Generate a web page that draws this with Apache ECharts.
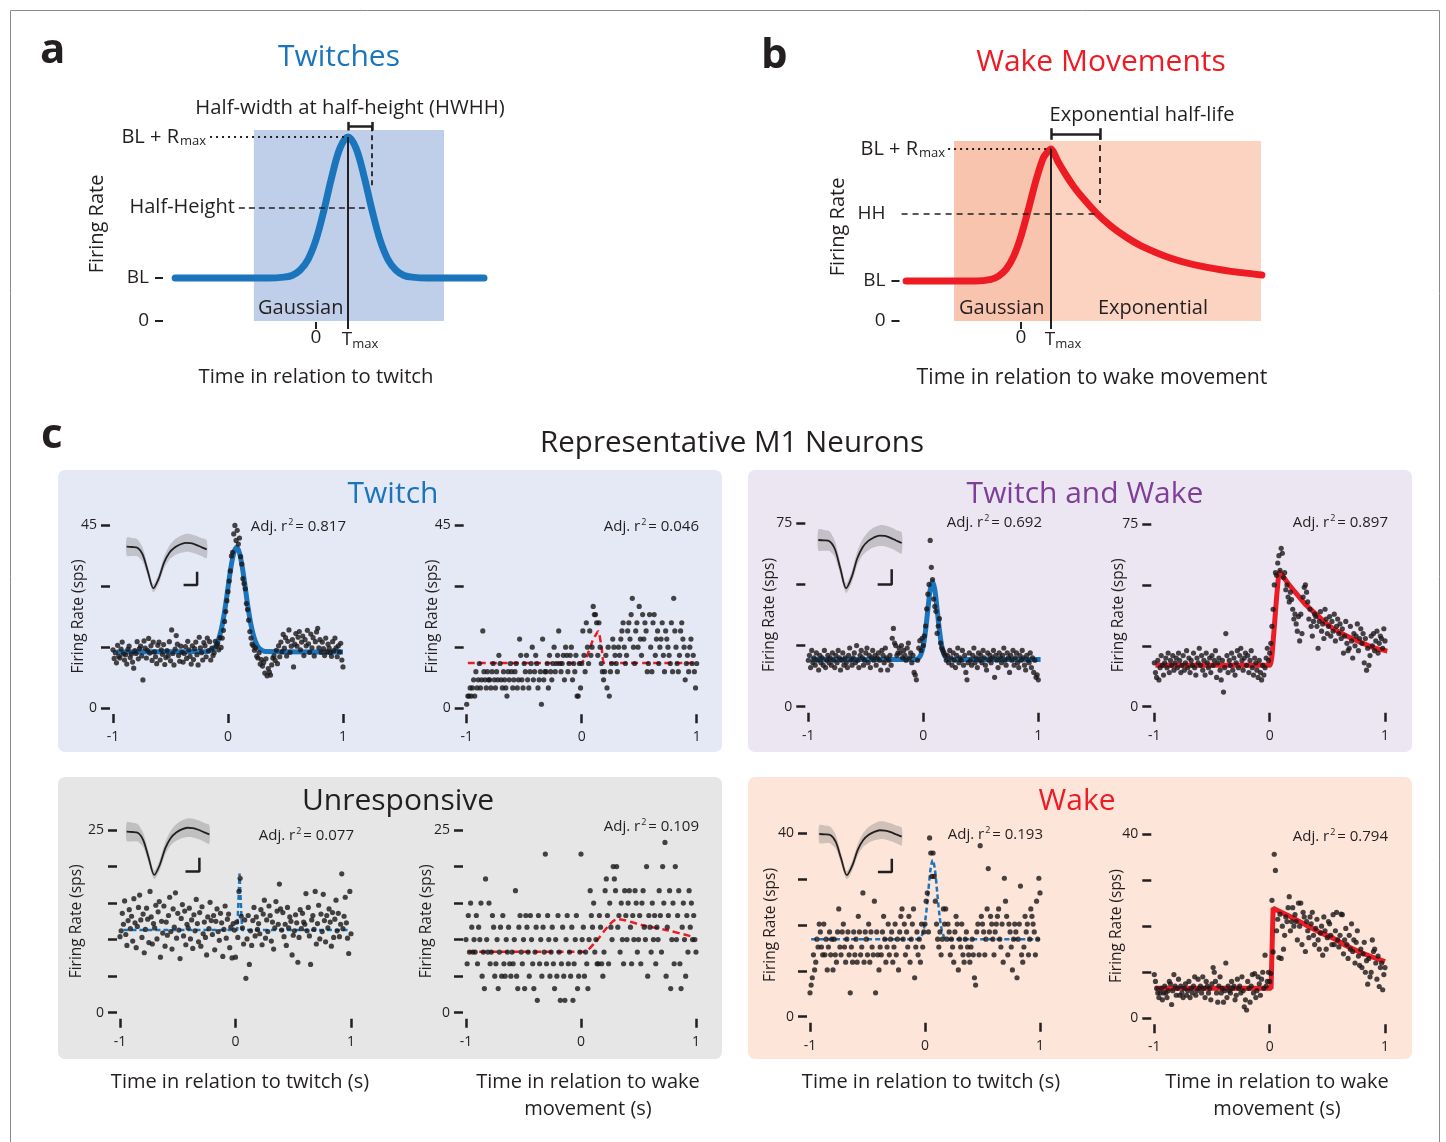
<!DOCTYPE html>
<html><head><meta charset="utf-8">
<script src="https://cdn.jsdelivr.net/npm/echarts@6/dist/echarts.min.js"></script>
<style>html,body{margin:0;padding:0;background:#fff}#c{width:1446px;height:1142px}</style>
</head><body><div id="c"></div><script>
const FONT = "'Open Sans', 'Noto Sans', sans-serif";
const DARK = '#231f20', BLUE = '#1b75bc', RED = '#ed1c24', PURPLE = '#7f3f98';

// ---------- DATA ----------
// Schematic curves (x unit = Tmax, y unit = BL)
const schemaTwitchCurve = [[-4.4,1],[-1.5,1],[-1,1.02],[-0.75,1.06],[-0.5,1.18],[-0.25,1.43],[0,1.89],[0.25,2.58],[0.5,3.37],[0.75,4.02],[1,4.28],[1.25,4.02],[1.5,3.37],[1.75,2.58],[2,1.89],[2.25,1.43],[2.5,1.18],[2.75,1.06],[3,1.02],[3.5,1],[5.25,1]];
const schemaWakeCurve = [[-3.83,1],[-1.5,1],[-1,1.04],[-0.75,1.12],[-0.5,1.29],[-0.25,1.61],[0,2.12],[0.25,2.8],[0.5,3.52],[0.75,4.09],[1,4.3],[1.25,3.96],[1.5,3.65],[1.75,3.37],[2,3.13],[2.5,2.71],[3,2.37],[3.5,2.1],[4,1.88],[5,1.57],[6,1.37],[7,1.24],[8.03,1.15]];

// Panel c: firing rate per time bin, from -1 s to 1 s
const twitchCellTwitchRates = [
14.3,12.2,13.6,11.1,15.4,12.7,12.3,14.5,16.2,13.3,11.8,13.1,10.8,14.4,15.2,12.4,13.3,11.3,9.8,14.1,
13.4,16.3,12.1,14.6,15.2,12.8,6.9,16.5,14.7,12.3,14.2,17.1,13.5,15.3,11.7,16.2,13.8,12.6,10.9,15.4,
16.2,11.8,14.3,13.2,15.6,10.7,12.4,14.1,12.8,16.3,11.6,19.2,13.4,10.6,14.5,17.8,15.7,12.9,11.5,15.2,
13.7,11.3,13.4,15.1,12.2,16.4,14.3,12.7,10.8,15.3,11.9,14.6,16.2,13.1,10.6,17.4,14.8,13.6,11.8,16.1,
15.3,12.6,17.2,14.1,16.3,11.8,14.7,12.9,13.6,16.4,15.2,15.8,14.3,17.3,14.9,17.2,19.1,21.3,23.7,26.4,
28.6,31.2,33.7,37.4,38.3,42.8,44.9,41.2,43.7,40.3,41.8,37.2,35.4,31.8,30.6,29.3,25.7,24.2,21.6,18.8,
17.2,15.7,15.3,14.2,14.8,12.7,12.3,13.6,10.8,11.9,10.3,11.2,8.6,12.1,7.9,9.7,8.8,8.1,10.6,12.3,
12.8,11.7,14.2,10.9,15.3,12.6,16.2,13.8,18.1,14.7,17.3,12.8,16.4,19.2,13.7,15.2,16.8,10.1,15.7,18.3,
15.2,17.4,18.8,14.3,16.2,17.7,12.9,16.8,15.3,19.1,15.8,13.7,18.2,14.8,17.3,12.8,16.3,18.7,19.6,14.8,
16.8,13.7,16.2,14.6,12.9,17.2,13.8,15.7,14.7,13.6,12.7,16.3,14.1,17.2,14.8,12.6,15.3,13.8,15.9,11.8,10.1];
const twitchCellWakeRates = [
1,3,3,5,3,5,7,3,9,5,7,11,5,7,19,9,7,5,9,7,
7,5,9,11,7,5,9,7,13,11,7,5,9,7,5,3,9,7,11,9,
5,7,9,11,5,7,17,13,7,5,11,9,13,7,5,9,11,15,7,9,
13,11,5,7,9,1,17,7,9,9,11,5,13,9,7,11,15,9,11,13,
19,11,9,11,13,7,15,13,9,11,13,15,7,11,9,13,3,3,11,5,
11,19,13,9,21,15,11,19,13,15,25,23,23,21,13,21,15,11,9,7,
9,13,5,15,3,9,11,17,15,13,11,9,15,13,17,19,21,15,11,13,
19,21,17,23,27,15,11,19,21,15,25,17,13,23,17,21,19,9,11,23,
15,9,21,23,13,17,19,11,15,17,21,13,9,19,17,15,13,11,21,9,
27,19,15,11,9,13,19,21,17,15,7,11,13,9,15,17,11,13,9,5,11];
const bothCellTwitchRates = [
19,21,16,23,18,20,17,22,19,15,21,18,20,17,23,16,19,21,18,20,
17,22,19,16,21,18,23,20,15,19,22,17,20,18,16,21,24,19,17,20,
22,18,25,19,16,21,23,20,17,19,22,24,18,21,16,20,23,19,21,17,
20,22,19,15,23,21,18,24,20,15,19,21,17,28,32,26,25,21,22,24,
22,25,20,23,21,19,24,26,20,22,18,21,14,13,11,19,24,27,23,28,
25,29,33,40,46,50,68,57,52,44,41,39,30,33,36,26,24,23,22,21,
19,21,18,23,20,17,22,19,16,21,24,18,20,19,23,17,21,14,11,18,
22,19,17,21,24,18,20,16,22,19,21,18,23,20,17,15,22,19,21,18,
20,23,12,21,19,16,22,20,18,21,24,19,17,22,20,14,21,19,23,17,
20,22,18,16,21,19,23,20,17,15,21,19,18,22,16,20,14,19,12,13,11];
const bothCellWakeRates = [
18,14,12,19,11,16,21,17,13,18,20,16,22,14,19,17,21,15,18,20,
16,22,19,14,17,21,15,18,23,16,20,14,19,17,22,16,13,20,18,24,
17,21,15,19,13,22,18,16,20,14,21,17,19,23,12,18,20,15,11,19,
6,16,30,21,14,19,17,22,15,20,13,18,23,16,21,24,19,15,20,22,
17,21,14,19,23,16,13,20,18,15,12,19,14,11,17,13,16,20,24,19,
22,26,33,40,50,55,54,59,62,56,65,63,53,55,48,50,45,43,47,44,
40,36,38,34,31,37,27,38,30,45,49,50,47,43,36,40,33,29,35,38,
37,33,24,35,39,31,34,28,40,36,30,33,37,29,35,31,38,27,33,36,
30,34,28,32,22,29,35,26,23,24,33,27,20,30,25,29,34,23,28,32,
26,30,18,28,15,24,17,21,29,25,30,23,27,31,22,26,29,28,24,32,27];
const unrespCellTwitchRates = [
10.4,11.2,13.6,12.1,15.3,10.7,9.2,12.6,14.1,11.5,13.2,9.8,15.6,12.3,8.9,11.8,14.4,16.1,12.7,10.3,
13.5,8.2,11.4,14.3,12.8,9.6,16.6,13.1,9.4,12.2,11.6,14.7,10.1,13.8,15.2,7.6,12.5,10.9,14.6,9.1,
12.4,10.6,13.3,15.8,11.1,8.7,14.2,11.7,16.4,10.2,13.6,11.3,7.4,12.9,14.8,10.5,13.9,9.3,12.1,11.6,
14.3,10.1,12.7,8.8,13.4,11.2,15.5,12.2,9.7,13.7,9.1,14.5,10.8,12.4,10.3,7.9,13.1,11.5,15.1,12.6,
10.7,13.3,8.6,12.5,14.2,11.1,9.9,13.6,12.3,7.7,11.4,14.6,10.2,12.8,13.5,8.9,11.7,7.5,12.2,11.3,
7.6,12.4,10.3,16.6,18.4,13.2,11.6,9.4,12.7,4.7,10.1,13.3,6.6,11.2,9.2,12.6,14.4,10.5,13.1,11.4,
12.2,10.8,14.1,9.3,13.5,15.4,10.2,12.7,11.1,14.6,13.3,9.8,12.4,8.7,11.6,15.2,13.9,12.1,17.6,14.2,
11.3,13.7,10.4,12.1,9.2,14.4,11.6,13.1,12.5,7.9,10.6,11.2,13.4,12.3,6.9,10.3,14.1,11.5,13.6,12.4,
12.1,16.3,11.2,14.4,10.5,6.6,12.7,13.3,11.4,16.6,9.4,12.2,14.7,10.1,13.5,11.1,16.2,12.6,9.7,13.3,
11.6,14.2,12.4,9.1,13.7,10.3,12.8,15.4,11.2,13.6,10.4,12.1,19.0,11.5,13.2,15.8,12.3,10.2,8.1,16.6,10.8];
const unrespCellWakeRates = [
10,6.7,13.3,8.3,15,11.7,8.3,10,8.3,13.3,6.7,11.7,10,15,5,8.3,3.3,18.3,10,8.3,
15,6.7,8.3,13.3,11.7,5,6.7,10,3.3,8.3,11.7,5,13.3,6.7,5,10,8.3,11.7,6.7,5,
8.3,6.7,10,16.7,5,3.3,11.7,13.3,8.3,6.7,10,3.3,13.3,11.7,8.3,5,13.3,10,6.7,3.3,
8.3,11.7,1.7,13.3,6.7,10,5,11.7,8.3,21.7,6.7,13.3,10,5,8.3,11.7,6.7,3.3,10,5,
13.3,8.3,1.7,6.7,11.7,5,1.7,10,13.3,6.7,8.3,5,11.7,1.7,6.7,10,13.3,3.3,5,8.3,
21.7,10,11.7,5,8.3,6.7,3.3,10,16.7,13.3,11.7,15,8.3,10,6.7,6.7,13.3,11.7,6.7,5,
8.3,16.7,18.3,13.3,6.7,15,11.7,10,20,18.3,16.7,20,11.7,13.3,8.3,15,10,6.7,16.7,13.3,
10,15,16.7,11.7,6.7,13.3,10,16.7,15,8.3,10,13.3,6.7,15,16.7,11.7,10,20,5,13.3,
11.7,8.3,15,10,13.3,6.7,11.7,10,16.7,13.3,8.3,20,15,23.3,5,11.7,13.3,16.7,3.3,10,
15,6.7,20,10,13.3,16.7,6.7,3.3,11.7,15,10,5,13.3,8.3,16.7,11.7,15,10,13.3,10,8.3];
const wakeCellTwitchRates = [
5.2,6.9,8.5,13.5,10.2,11.9,16.9,15.2,20.2,18.5,15.2,13.5,20.2,13.5,16.9,10.2,15.2,18.5,13.5,16.9,
10.2,16.9,13.5,11.9,18.5,23.5,15.2,13.5,18.5,20.2,15.2,11.9,16.9,18.5,13.5,5.2,15.2,11.9,18.5,13.5,
16.9,11.9,21.9,18.5,13.5,15.2,27.0,11.9,18.5,16.9,13.5,20.2,11.9,18.5,15.2,13.5,25.2,5.2,18.5,13.5,
10.2,15.2,13.5,18.5,21.9,16.9,11.9,15.2,20.2,13.5,16.9,18.5,11.9,15.2,20.2,13.5,16.9,10.2,18.5,21.9,
23.5,16.9,20.2,13.5,18.5,15.2,21.9,11.9,16.9,20.2,23.5,8.5,15.2,18.5,13.5,16.9,11.9,20.2,15.2,18.5,
20.2,25.2,27.0,18.5,39.0,35.7,30.6,35.7,30.6,25.2,20.2,16.9,15.2,18.5,13.5,16.9,23.5,20.2,23.5,16.9,
20.2,18.5,13.5,16.9,15.2,11.9,18.5,21.9,20.2,10.2,16.9,15.2,20.2,13.5,11.9,16.9,18.5,15.2,13.5,11.9,
15.2,16.9,13.5,8.5,6.9,18.5,20.2,13.5,37.3,21.9,20.2,18.5,13.5,16.9,23.5,32.3,18.5,21.9,20.2,16.9,
13.5,18.5,20.2,21.9,23.5,16.9,15.2,20.2,11.9,30.2,25.2,21.9,13.5,20.2,18.5,15.2,10.2,16.9,20.2,18.5,
8.5,16.9,20.2,28.5,13.5,11.9,15.2,21.9,18.5,20.2,13.5,16.9,23.5,21.9,20.2,18.5,13.5,25.2,16.9,30.2,27.0];
const wakeCellWakeRates = [
9.5,8,6.5,5.5,4.5,5.5,6.5,4,5.5,7,5.5,4.5,6,8,7.5,3,6,9.5,7,5,
6.5,8.5,5,7,5.5,4.5,6.5,7.5,5,6,8,4.5,6.5,5.5,7,9,5,6,8.5,6.5,
7,5.5,9,6.5,4.5,8,7,5.5,6.5,4,7.5,11,10,8,5.5,3.5,7,9,5.5,6.5,
3.5,6,12,4.5,7,6,5.5,8,6.5,7,4,5,8.5,6.5,7,5.5,9,6,2.5,4,
1.8,8,6.5,3.5,7,9.5,5.5,9.7,4.5,6,9,7.5,5,8.5,10,6.5,13.7,7,8,10,
8,9.7,25.6,14.4,35.6,32.1,19,21.5,13.2,22.6,13,20,15,18,22,21,24,26.4,19,21,
24,20,22.5,21,17,25,20,25,16,23,22,14.5,21,19,17.5,22,20.5,23,18,16,
19.5,21.5,17,15,18.5,20,13.7,22,19,15,17.5,21,20.5,18,16,22.5,16,19,23,17,
15.5,18,22.6,22.5,14,17,19.5,16,13,18,15,20.5,14.5,17,12,16.5,19,13.5,11.5,15,
11,14,16.5,10,12.5,7.4,13,9,10,17,14.5,15,12,8.5,13.5,6.9,11,12,6.2,9.5,11];

// Fitted curves [time (s), rate (sps)]
const twitchCellTwitchFit = [[-0.97,13.8],[-0.175,13.9],[-0.125,14.6],[-0.1,15.6],[-0.075,17.5],[-0.05,20.4],[-0.025,24.6],[0,29.6],[0.025,34.5],[0.05,38.1],[0.075,39.5],[0.1,38.1],[0.125,34.5],[0.15,29.6],[0.175,24.6],[0.2,20.4],[0.225,17.5],[0.25,15.6],[0.275,14.6],[0.325,13.9],[1.0,13.8]];
const twitchCellWakeFit = [[-0.99,11.1],[-0.015,11.1],[0.04,12.5],[0.095,16.6],[0.144,18.9],[0.175,14.5],[0.2,11.1],[1.0,11.1]];
const bothCellTwitchFit = [[-0.98,19.3],[-0.07,19.35],[-0.04,19.9],[-0.02,21.4],[0,24.9],[0.02,31.3],[0.04,39.9],[0.06,47.9],[0.08,51.1],[0.1,47.9],[0.12,39.9],[0.14,31.3],[0.16,24.9],[0.18,21.4],[0.2,19.9],[0.23,19.35],[1.02,19.3]];
const bothCellWakeFit = [[-0.99,17.05],[0,17.05],[0.01,18],[0.02,21],[0.034,29],[0.05,38.7],[0.066,48],[0.087,55.2],[0.15,51.2],[0.2,48.2],[0.25,45.4],[0.318,41.6],[0.4,38.1],[0.47,35],[0.55,32.1],[0.63,30],[0.7,28.3],[0.78,26.6],[0.86,25],[0.93,23.8],[1.02,22.8]];
const unrespCellTwitchFit = [[-0.97,11.3],[0.015,11.3],[0.035,19.05],[0.057,11.3],[0.97,11.3]];
const unrespCellWakeFit = [[-0.98,8.33],[0.02,8.33],[0.127,9.7],[0.245,12],[0.315,12.8],[0.53,12],[0.76,11.25],[0.97,10.4]];
const wakeCellTwitchFit = [[-0.99,16.9],[-0.06,16.9],[-0.033,17.4],[-0.013,18.8],[0.007,21.9],[0.027,26.85],[0.047,31.95],[0.067,34.2],[0.087,31.95],[0.107,26.85],[0.127,21.9],[0.147,18.8],[0.167,17.4],[0.2,16.9],[1.0,16.9]];
const wakeCellWakeFit = [[-0.99,6.5],[0.012,6.5],[0.03,23.9],[0.1,23],[0.2,21.8],[0.32,20.2],[0.43,18.7],[0.55,17.4],[0.66,15.8],[0.78,14.4],[0.89,13.3],[1.0,12.3]];

const yMaxima = [45,45,75,75,25,25,40,40];
const yIntervals = [15,15,25,25,5,5,10,10];
const adjR2 = ['0.817','0.046','0.692','0.897','0.077','0.109','0.193','0.794'];

// Spike waveform inset (sample index, arbitrary amplitude)
const waveMean = [0,-0.3,-1,-8,-25.3,-41.6,-32,-16,-6,-0.8,2.2,3.8,3.5,1.9,-0.4,-2.6];
const waveLow  = [-9,-9.3,-9.5,-15,-30.3,-45.6,-37,-22,-13,-8.8,-6.3,-5.2,-5.5,-7.1,-9.4,-11.6];
const waveHigh = [9,8.7,7.5,-1,-20.3,-37.6,-27,-10,1,7.2,10.7,12.8,12.5,10.9,8.6,6.4];
const scaleBar = [[10.9,-38.3],[13.2,-38.3],[13.2,-26.3]];

// ---------- LAYOUT ----------
const plotLayout = [
 {l:113, r:343, t:525, b:708, gap:23},
 {l:466.7, r:696.7, t:525, b:708.3, gap:23},
 {l:808.3, r:1038.3, t:523.3, b:706.7, gap:28},
 {l:1154.3, r:1385, t:524, b:706.7, gap:25},
 {l:120, r:351, t:830, b:1012.7, gap:32},
 {l:466, r:696, t:830, b:1012.7, gap:28},
 {l:810, r:1040, t:833.3, b:1016.7, gap:28},
 {l:1154.3, r:1385, t:834, b:1018.3, gap:27}
];
const plotRates = [twitchCellTwitchRates, twitchCellWakeRates, bothCellTwitchRates, bothCellWakeRates, unrespCellTwitchRates, unrespCellWakeRates, wakeCellTwitchRates, wakeCellWakeRates];
const plotFits = [twitchCellTwitchFit, twitchCellWakeFit, bothCellTwitchFit, bothCellWakeFit, unrespCellTwitchFit, unrespCellWakeFit, wakeCellTwitchFit, wakeCellWakeFit];
const fitStyles = [
 {color:BLUE, width:5, type:'solid', smooth:0.3},
 {color:RED, width:2.5, type:[7,4], smooth:0.2},
 {color:BLUE, width:5, type:'solid', smooth:0.3},
 {color:RED, width:5, type:'solid', smooth:0.2},
 {color:BLUE, width:2.5, type:[5,3], smooth:false},
 {color:RED, width:2.5, type:[7,4], smooth:0.3},
 {color:BLUE, width:2.5, type:[5,3], smooth:0.3},
 {color:RED, width:5, type:'solid', smooth:false}
];
const r2Layout = [{x:346,y:527},{x:699,y:527},{x:1042,y:523},{x:1388,y:523},{x:354,y:836},{x:699,y:827},{x:1043,y:835},{x:1388,y:837}];
const insetLayout = [
 {left:126.7, startY:546.7, s:1.0, w:80},
 {left:818.3, startY:540, s:1.16, w:83.4},
 {left:126.7, startY:831.7, s:1.04, w:82.6},
 {left:819.3, startY:834, s:0.99, w:82.4}
];
const boxes = [
 {x:58, y:470, w:664, h:282, color:'#e5e9f6', title:'Twitch', tx:393, ty:494, tc:BLUE},
 {x:748, y:470, w:664, h:282, color:'#ebe6f1', title:'Twitch and Wake', tx:1085, ty:494, tc:PURPLE},
 {x:58, y:777, w:664, h:282, color:'#e6e6e6', title:'Unresponsive', tx:398, ty:801, tc:DARK},
 {x:748, y:777, w:664, h:282, color:'#fde5da', title:'Wake', tx:1077, ty:801, tc:RED}
];

// ---------- BUILD ----------
const grids = [], xAxes = [], yAxes = [], series = [];
function addGrid(g, xa, ya) {
  grids.push(g);
  const i = grids.length - 1;
  xAxes.push(Object.assign({gridIndex:i}, xa));
  yAxes.push(Object.assign({gridIndex:i}, ya));
  return i;
}
const lbl = (size) => ({fontSize:size, fontFamily:FONT, color:DARK});
const noLine = {show:false, onZero:false};

// Panel a
const richA = {a:{fontSize:20, fontFamily:FONT, color:DARK}, b:{fontSize:13, fontFamily:FONT, color:DARK, padding:[9,0,0,1]}};
const tmaxRich = {t:{fontSize:19, fontFamily:FONT, color:DARK, padding:[0,0,0,24]}, s:{fontSize:13, fontFamily:FONT, color:DARK, padding:[10,0,0,0]}};
const ga = addGrid({left:163, top:118.9, width:321, height:210.1},
 {type:'value', min:-4.78, max:5.25, axisLine:noLine, splitLine:{show:false},
  axisTick:{show:true, customValues:[0], inside:true, length:7, lineStyle:{color:DARK, width:2}},
  axisLabel:{show:true, customValues:[0,1], margin:-1, fontSize:19, fontFamily:FONT, color:DARK,
    formatter:(v)=> v===0 ? '0' : '{t|T}{s|max}', rich:tmaxRich}},
 {type:'value', min:-0.186, max:4.7, axisLine:noLine, splitLine:{show:false},
  axisTick:{show:true, customValues:[0,1], length:8, lineStyle:{color:DARK, width:2}},
  axisLabel:{show:true, customValues:[0,1], margin:14, fontSize:19, fontFamily:FONT, color:DARK, formatter:(v)=> v===0 ? '0' : 'BL'},
  name:'Firing Rate', nameLocation:'middle', nameGap:56, nameMoveOverlap:false, nameTextStyle:lbl(20)});
const mlA = (from, to, style, label) => [Object.assign({coord:from, lineStyle:style}, label ? {label} : {}), {coord:to}];
const solidK = {type:'solid', width:2, color:DARK};
series.push({type:'line', xAxisIndex:ga, yAxisIndex:ga, data:schemaTwitchCurve, smooth:0.35, symbol:'none', clip:false,
  lineStyle:{color:BLUE, width:7, cap:'round'}, z:3,
  markArea:{silent:true, itemStyle:{color:'#c0cfe9'}, data:[[{coord:[-1.94,0]},{coord:[4.0,4.44]}]]},
  markLine:{silent:true, symbol:['none','none'], animation:false, label:{show:false},
    data:[
      mlA([-3.31,4.28],[1,4.28], {type:[2,4], width:2, color:DARK}, {show:true, position:'start', distance:4, formatter:'{a|BL + R}{b|max}', rich:richA}),
      mlA([-2.41,2.64],[1.6,2.64], {type:[6,4], width:1.5, color:DARK}, {show:true, position:'start', distance:4, formatter:'{a|Half-Height}', rich:richA}),
      mlA([1,4.28],[1,-0.186], solidK),
      mlA([1.75,4.53],[1.75,3.12], {type:[5,4], width:1.8, color:DARK}),
      mlA([1,4.53],[1.75,4.53], {type:'solid', width:2.5, color:DARK}),
      mlA([1,4.43],[1,4.63], {type:'solid', width:2.5, color:DARK}),
      mlA([1.75,4.43],[1.75,4.63], {type:'solid', width:2.5, color:DARK})
    ]}
});

// Panel b
const gb = addGrid({left:899.5, top:125, width:363, height:204},
 {type:'value', min:-4.05, max:8.05, axisLine:noLine, splitLine:{show:false},
  axisTick:{show:true, customValues:[0], inside:true, length:7, lineStyle:{color:DARK, width:2}},
  axisLabel:{show:true, customValues:[0,1], margin:-1, fontSize:19, fontFamily:FONT, color:DARK,
    formatter:(v)=> v===0 ? '0' : '{t|T}{s|max}', rich:tmaxRich}},
 {type:'value', min:-0.2, max:4.9, axisLine:noLine, splitLine:{show:false},
  axisTick:{show:true, customValues:[0,1], length:8, lineStyle:{color:DARK, width:2}},
  axisLabel:{show:true, customValues:[0,1,2.675], margin:14, fontSize:19, fontFamily:FONT, color:DARK, formatter:(v)=> v===0 ? '0' : (v===1 ? 'BL' : 'HH')},
  name:'Firing Rate', nameLocation:'middle', nameGap:51, nameMoveOverlap:false, nameTextStyle:lbl(20)});
series.push({type:'line', xAxisIndex:gb, yAxisIndex:gb, data:schemaWakeCurve, smooth:0.2, symbol:'none', clip:false,
  lineStyle:{color:RED, width:7, cap:'round'}, z:3,
  markArea:{silent:true, data:[
    [{coord:[-2.23,0], itemStyle:{color:'#f9c4ad'}},{coord:[1,4.5]}],
    [{coord:[1,0], itemStyle:{color:'#fbd3c0'}},{coord:[8.0,4.5]}]]},
  markLine:{silent:true, symbol:['none','none'], animation:false, label:{show:false},
    data:[
      mlA([-2.43,4.3],[1,4.3], {type:[2,4], width:2, color:DARK}, {show:true, position:'start', distance:3, formatter:'{a|BL + R}{b|max}', rich:richA}),
      mlA([-3.98,2.675],[2.47,2.675], {type:[6,5], width:1.6, color:DARK}),
      mlA([1,4.3],[1,-0.2], solidK),
      mlA([2.63,4.675],[2.63,2.95], {type:[6,5], width:1.8, color:DARK}),
      mlA([1,4.675],[2.63,4.675], {type:'solid', width:2.5, color:DARK}),
      mlA([1,4.53],[1,4.82], {type:'solid', width:2.5, color:DARK}),
      mlA([2.63,4.53],[2.63,4.82], {type:'solid', width:2.5, color:DARK})
    ]}
});

// Panel c plots
plotLayout.forEach((L, p) => {
  const M = yMaxima[p];
  const gi = addGrid({left:L.l, top:L.t, width:L.r - L.l, height:L.b - L.t},
   {type:'value', min:-1, max:1, interval:1, offset:6, axisLine:noLine, splitLine:{show:false},
    axisTick:{show:true, length:9, lineStyle:{color:DARK, width:2.5}},
    axisLabel:{margin:16, fontSize:14, fontFamily:FONT, color:DARK}},
   {type:'value', min:0, max:M, interval:yIntervals[p], offset:3, axisLine:noLine, splitLine:{show:false},
    axisTick:{show:true, length:9, lineStyle:{color:DARK, width:2.5}},
    axisLabel:{margin:13, fontSize:14, fontFamily:FONT, color:DARK, formatter:(v)=> (v===0 || v===M) ? String(v) : ''},
    name:'Firing Rate (sps)', nameLocation:'middle', nameGap:L.gap, nameMoveOverlap:false, nameTextStyle:lbl(15.5)});
  const st = fitStyles[p];
  series.push({type:'line', xAxisIndex:gi, yAxisIndex:gi, data:plotFits[p], smooth:st.smooth, symbol:'none', clip:false,
    lineStyle:{color:st.color, width:st.width, type:st.type, cap:'butt'}, z:3});
  const rates = plotRates[p];
  series.push({type:'scatter', xAxisIndex:gi, yAxisIndex:gi, clip:false, symbolSize:5.2, z:4,
    itemStyle:{color:'#1a1718'}, data:rates.map((v,i)=>[-1 + 2*i/(rates.length-1), v])});
});

// Waveform insets
insetLayout.forEach((I, k) => {
  const gi = addGrid({left:I.left, top:I.startY - 14*I.s, width:I.w, height:61*I.s},
    {type:'value', min:0, max:15, show:false}, {type:'value', min:-47, max:14, show:false});
  series.push({type:'custom', xAxisIndex:gi, yAxisIndex:gi, z:5, silent:true, clip:false, data:[[0,0]],
    renderItem:(params, api) => {
      const pts = [];
      waveHigh.forEach((v,i)=>pts.push(api.coord([i,v])));
      for (let i = waveLow.length-1; i >= 0; i--) pts.push(api.coord([i, waveLow[i]]));
      return {type:'polygon', shape:{points:pts, smooth:0.25}, style:{fill:'rgba(105,105,105,0.30)'}};
    }});
  series.push({type:'line', xAxisIndex:gi, yAxisIndex:gi, symbol:'none', smooth:0.3, lineStyle:{color:DARK, width:1.8}, z:6,
    data:waveMean.map((v,i)=>[i,v])});
  series.push({type:'line', xAxisIndex:gi, yAxisIndex:gi, symbol:'none', clip:false, lineStyle:{color:DARK, width:2.5, cap:'square'}, z:6,
    data:scaleBar});
});

// ---------- TEXT / FRAME ----------
const graphics = [];
graphics.push({type:'rect', silent:true, z:-20, shape:{x:10.5, y:10.5, width:1429, height:1170}, style:{fill:'#ffffff', stroke:'#8a8a8a', lineWidth:1}});
boxes.forEach(b => graphics.push({type:'rect', silent:true, z:-10, shape:{x:b.x, y:b.y, width:b.w, height:b.h, r:7}, style:{fill:b.color}}));
function txt(text, x, y, size, o) {
  o = o || {};
  return {type:'text', silent:true, z:50, x:x, y:y, style:Object.assign({text:text, fill:o.fill || DARK, fontSize:size, fontFamily:FONT, fontWeight:o.weight || 'normal', align:o.align || 'center', verticalAlign:'middle'}, o.extra || {})};
}
graphics.push(txt('a', 40, 51, 42, {align:'left', weight:'bold'}));
graphics.push(txt('b', 761, 56, 42, {align:'left', weight:'bold'}));
graphics.push(txt('c', 41, 436, 42, {align:'left', weight:'bold'}));
graphics.push(txt('Twitches', 339, 57, 30, {fill:BLUE}));
graphics.push(txt('Wake Movements', 1101, 62, 30, {fill:RED}));
graphics.push(txt('Half-width at half-height (HWHH)', 350, 108, 20.3));
graphics.push(txt('Gaussian', 258, 308, 20, {align:'left'}));
graphics.push(txt('Time in relation to twitch', 316, 377, 20.3));
graphics.push(txt('Exponential half-life', 1142, 115, 20));
graphics.push(txt('Gaussian', 959, 308, 20, {align:'left'}));
graphics.push(txt('Exponential', 1098, 308, 20, {align:'left'}));
graphics.push(txt('Time in relation to wake movement', 1092, 378, 21.3));
graphics.push(txt('Representative M1 Neurons', 732, 444, 29.5));
boxes.forEach(b => graphics.push(txt(b.title, b.tx, b.ty, 30, {fill:b.tc})));
r2Layout.forEach((r, p) => graphics.push(txt('{a|Adj. r}{s|2}{a|= ' + adjR2[p] + '}', r.x, r.y, 15, {align:'right',
  extra:{rich:{a:{fontSize:15, fontFamily:FONT, fill:DARK}, s:{fontSize:9, fontFamily:FONT, fill:DARK, padding:[0,2,9,1]}}}})));
graphics.push(txt('Time in relation to twitch (s)', 240, 1082, 20));
graphics.push(txt('Time in relation to wake', 588, 1082, 20));
graphics.push(txt('movement (s)', 588, 1109, 20));
graphics.push(txt('Time in relation to twitch (s)', 931, 1082, 20));
graphics.push(txt('Time in relation to wake', 1277, 1082, 20));
graphics.push(txt('movement (s)', 1277, 1109, 20));

const chart = echarts.init(document.getElementById('c'), null, {renderer:'canvas'});
chart.setOption({
  animation:false,
  backgroundColor:'#ffffff',
  textStyle:{fontFamily:FONT},
  graphic:{elements:graphics},
  grid:grids, xAxis:xAxes, yAxis:yAxes, series:series
});
</script></body></html>
